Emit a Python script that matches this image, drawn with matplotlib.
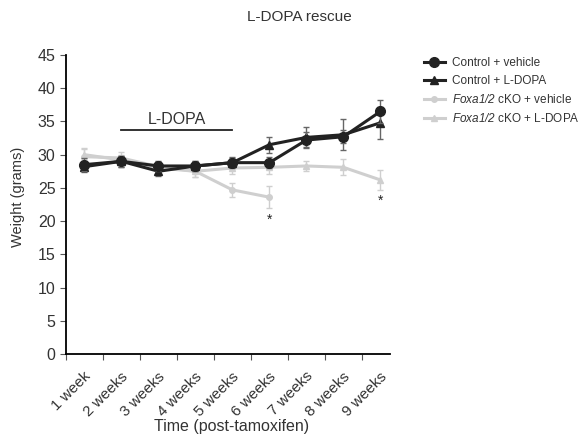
import numpy as np
import matplotlib.pyplot as plt
from matplotlib.lines import Line2D

plt.rcParams['font.family'] = ['Liberation Sans', 'DejaVu Sans']
plt.rcParams['mathtext.fontset'] = 'custom'
plt.rcParams['mathtext.rm'] = 'Liberation Sans'
plt.rcParams['mathtext.sf'] = 'Liberation Sans:italic'

weeks = ['1 week', '2 weeks', '3 weeks', '4 weeks', '5 weeks',
         '6 weeks', '7 weeks', '8 weeks', '9 weeks']

ctrl_veh = [28.5, 29.0, 28.3, 28.3, 28.8, 28.8, 32.2, 32.7, 36.5]
ctrl_veh_err = [1.0, 0.8, 0.8, 0.8, 0.7, 0.8, 1.2, 1.0, 1.8]
ctrl_ld = [28.2, 29.0, 27.5, 28.3, 28.8, 31.5, 32.6, 33.0, 34.8]
ctrl_ld_err = [0.8, 0.8, 0.7, 0.7, 0.8, 1.2, 1.5, 2.3, 2.4]
ko_veh = [29.7, 29.5, 28.2, 27.5, 24.7, 23.6]
ko_veh_err = [1.2, 0.9, 0.8, 0.9, 1.0, 1.7]
ko_ld = [30.0, 29.2, 28.0, 27.5, 28.0, 28.1, 28.3, 28.1, 26.2]
ko_ld_err = [1.0, 0.8, 0.8, 0.8, 0.9, 1.0, 0.8, 1.2, 1.5]

labels = ['Control + vehicle', 'Control + L-DOPA',
          '$\\mathsf{Foxa1/2}$ cKO + vehicle', '$\\mathsf{Foxa1/2}$ cKO + L-DOPA']

dark = '#222222'
light = '#cfcfcf'
txt = '#333333'

fig = plt.figure(figsize=(5.86, 4.43), dpi=100)
ax = fig.add_axes([0.1126, 0.2009, 0.5529, 0.6749])

x = np.arange(len(weeks)) + 0.5
xk = x[:len(ko_veh)]

ax.errorbar(x, ko_ld, yerr=ko_ld_err, color=light, marker='^', ms=4, lw=2.2,
            capsize=2.5, elinewidth=1, zorder=2)
ax.errorbar(xk, ko_veh, yerr=ko_veh_err, color=light, marker='o', ms=4, lw=2.2,
            capsize=2.5, elinewidth=1, zorder=2)
ax.errorbar(x, ctrl_ld, yerr=ctrl_ld_err, color=dark, marker='^', ms=6, lw=2.2,
            capsize=2.5, elinewidth=1, ecolor='#666666', zorder=3)
ax.errorbar(x, ctrl_veh, yerr=ctrl_veh_err, color=dark, marker='o', ms=7, lw=2.2,
            capsize=2.5, elinewidth=1, ecolor='#666666', zorder=4)

# significance stars
ax.text(x[5], ko_veh[5] - ko_veh_err[5] - 0.6, '*', ha='center', va='top', fontsize=10, color=dark)
ax.text(x[8], ko_ld[8] - ko_ld_err[8] - 0.6, '*', ha='center', va='top', fontsize=10, color=dark)

# L-DOPA treatment bar
ax.plot([x[1], x[4]], [33.7, 33.7], color=dark, lw=1.3)
ax.text((x[1] + x[4]) / 2, 34.2, 'L-DOPA', ha='center', va='bottom', fontsize=11.5, color=txt)

ax.set_xlim(0, 8.76)
ax.set_ylim(0, 45)
ax.set_yticks(np.arange(0, 46, 5))
ax.set_xticks(np.arange(0, 9))
ax.set_xticklabels([])
for xi, lab in zip(x, weeks):
    ax.text(xi - 0.02, -2.3, lab, rotation=45, ha='right', va='top',
            fontsize=11, color=txt, rotation_mode='anchor')

ax.spines['top'].set_visible(False)
ax.spines['right'].set_visible(False)
ax.spines['left'].set_linewidth(1.3)
ax.spines['bottom'].set_linewidth(1.3)
ax.tick_params(axis='y', labelsize=11.5, colors=txt, length=4, color='#555555')
ax.tick_params(axis='x', length=4, color='#555555')

fig.text(0.030, 1 - 197 / 443, 'Weight (grams)', rotation=90, ha='center', va='center',
         fontsize=10.5, color=txt)
fig.text(232 / 586, 1 - 427 / 443, 'Time (post-tamoxifen)', ha='center', va='center',
         fontsize=11.5, color=txt)
fig.text(299 / 586, 1 - 17 / 443, 'L-DOPA rescue', ha='center', va='center', fontsize=11, color=txt)

handles = [
    Line2D([], [], color=dark, marker='o', ms=7, lw=2.2),
    Line2D([], [], color=dark, marker='^', ms=6, lw=2.2),
    Line2D([], [], color=light, marker='o', ms=4, lw=2.2),
    Line2D([], [], color=light, marker='^', ms=4, lw=2.2),
]
leg = fig.legend(handles, labels, loc='upper left', bbox_to_anchor=(0.705, 0.895),
                 frameon=False, fontsize=8.5, handlelength=1.8, labelspacing=0.5,
                 handletextpad=0.6)
for t in leg.get_texts():
    t.set_color(txt)

fig.savefig('out.png', dpi=100)
